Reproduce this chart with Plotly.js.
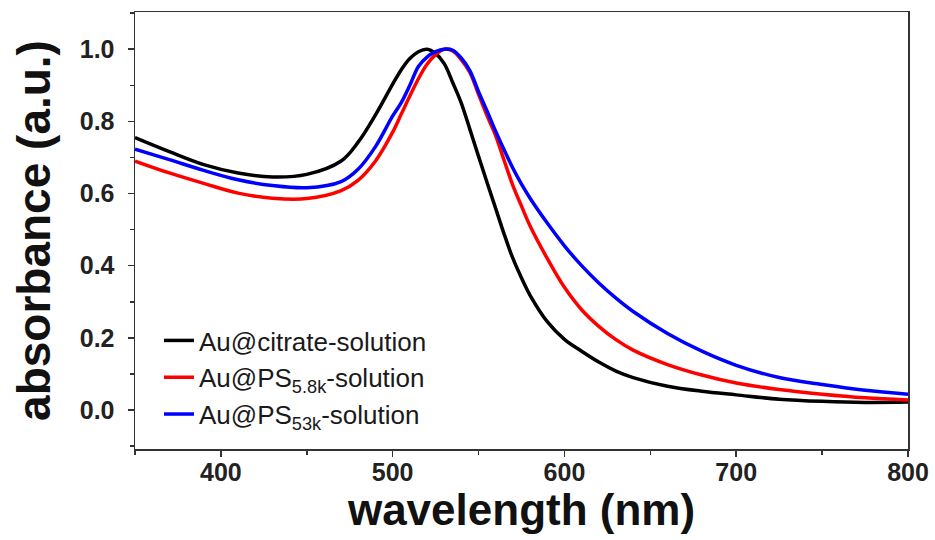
<!DOCTYPE html>
<html>
<head>
<meta charset="utf-8">
<script src="https://cdn.plot.ly/plotly-3.0.1.min.js"></script>
<style>html,body{margin:0;padding:0;background:#fff;}#chart{width:935px;height:540px;}</style>
</head>
<body>
<div id="chart"></div>
<script>
// wavelength grid (nm)
const wavelength = [350, 370, 390, 410, 430, 450, 470, 480, 490, 500, 505, 510, 515, 520, 525, 530, 535, 540, 545, 550, 555, 560, 565, 570, 575, 580, 590, 600, 610, 620, 630, 640, 660, 680, 700, 725, 750, 775, 800];

// Au@citrate-solution
const citrate = [0.755, 0.716, 0.680, 0.657, 0.646, 0.653, 0.690, 0.743, 0.818, 0.903, 0.943, 0.974, 0.993, 1.000, 0.988, 0.960, 0.907, 0.850, 0.777, 0.703, 0.630, 0.558, 0.486, 0.420, 0.366, 0.318, 0.245, 0.196, 0.163, 0.133, 0.108, 0.090, 0.066, 0.052, 0.042, 0.030, 0.024, 0.021, 0.022];

// Au@PS5.8k-solution
const ps58k = [0.690, 0.657, 0.628, 0.601, 0.587, 0.586, 0.608, 0.637, 0.690, 0.770, 0.820, 0.870, 0.918, 0.958, 0.985, 1.000, 0.995, 0.970, 0.935, 0.875, 0.815, 0.760, 0.690, 0.622, 0.565, 0.510, 0.420, 0.340, 0.278, 0.232, 0.195, 0.166, 0.126, 0.097, 0.075, 0.057, 0.044, 0.034, 0.028];

// Au@PS53k-solution
const ps53k = [0.723, 0.694, 0.664, 0.638, 0.622, 0.616, 0.633, 0.668, 0.730, 0.815, 0.852, 0.900, 0.952, 0.978, 0.993, 1.000, 0.997, 0.975, 0.940, 0.882, 0.828, 0.772, 0.720, 0.670, 0.626, 0.587, 0.518, 0.455, 0.400, 0.352, 0.310, 0.273, 0.212, 0.163, 0.124, 0.090, 0.071, 0.055, 0.044];

const seriesNames = ['Au@citrate-solution', 'Au@PS<sub>5.8k</sub>-solution', 'Au@PS<sub>53k</sub>-solution'];
const seriesColors = ['#000000', '#ff0000', '#0000ff'];
const seriesValues = [citrate, ps58k, ps53k];

const xTickVals = [400, 500, 600, 700, 800];
const yTickVals = [0.0, 0.2, 0.4, 0.6, 0.8, 1.0];

const FONT = 'Arial, "Liberation Sans", sans-serif';

const traces = seriesValues.map((vals, i) => ({
  type: 'scatter',
  mode: 'lines',
  x: wavelength,
  y: vals,
  name: seriesNames[i],
  line: {color: seriesColors[i], width: 3.5, shape: 'spline', smoothing: 1}
}));

const layout = {
  width: 935,
  height: 540,
  margin: {l: 135, r: 27, t: 12, b: 91},
  paper_bgcolor: '#ffffff',
  plot_bgcolor: '#ffffff',
  showlegend: true,
  legend: {
    x: 0.031, y: 0.302, xanchor: 'left', yanchor: 'top',
    bgcolor: 'rgba(0,0,0,0)',
    font: {family: FONT, size: 26, color: '#1a1a1a'},
    tracegroupgap: 0
  },
  xaxis: {
    range: [350, 800],
    tickvals: xTickVals,
    ticks: 'outside', ticklen: 6, tickwidth: 1.5, tickcolor: '#333',
    ticklabelstandoff: -6,
    minor: {dtick: 50, tick0: 350, ticks: 'outside', ticklen: 4, tickwidth: 1.5, tickcolor: '#333'},
    showline: true, linecolor: '#333', linewidth: 1.5, mirror: true,
    showgrid: false, zeroline: false,
    tickfont: {family: FONT, size: 25, color: '#222', weight: 'bold'},
    title: {text: 'wavelength (nm)', standoff: 8, font: {family: FONT, size: 44, color: '#111', weight: 'bold'}}
  },
  yaxis: {
    range: [-0.108, 1.103],
    tickvals: yTickVals,
    tickformat: '.1f',
    ticks: 'outside', ticklen: 6, tickwidth: 1.5, tickcolor: '#333',
    ticklabelstandoff: 8,
    minor: {dtick: 0.1, tick0: 0, ticks: 'outside', ticklen: 4, tickwidth: 1.5, tickcolor: '#333'},
    showline: true, linecolor: '#333', linewidth: 1.5, mirror: true,
    showgrid: false, zeroline: false,
    tickfont: {family: FONT, size: 25, color: '#222', weight: 'bold'},
    title: {text: 'absorbance (a.u.)', standoff: 14, font: {family: FONT, size: 46, color: '#111', weight: 'bold'}}
  }
};

Plotly.newPlot('chart', traces, layout, {staticPlot: true, displayModeBar: false});
</script>
</body>
</html>
